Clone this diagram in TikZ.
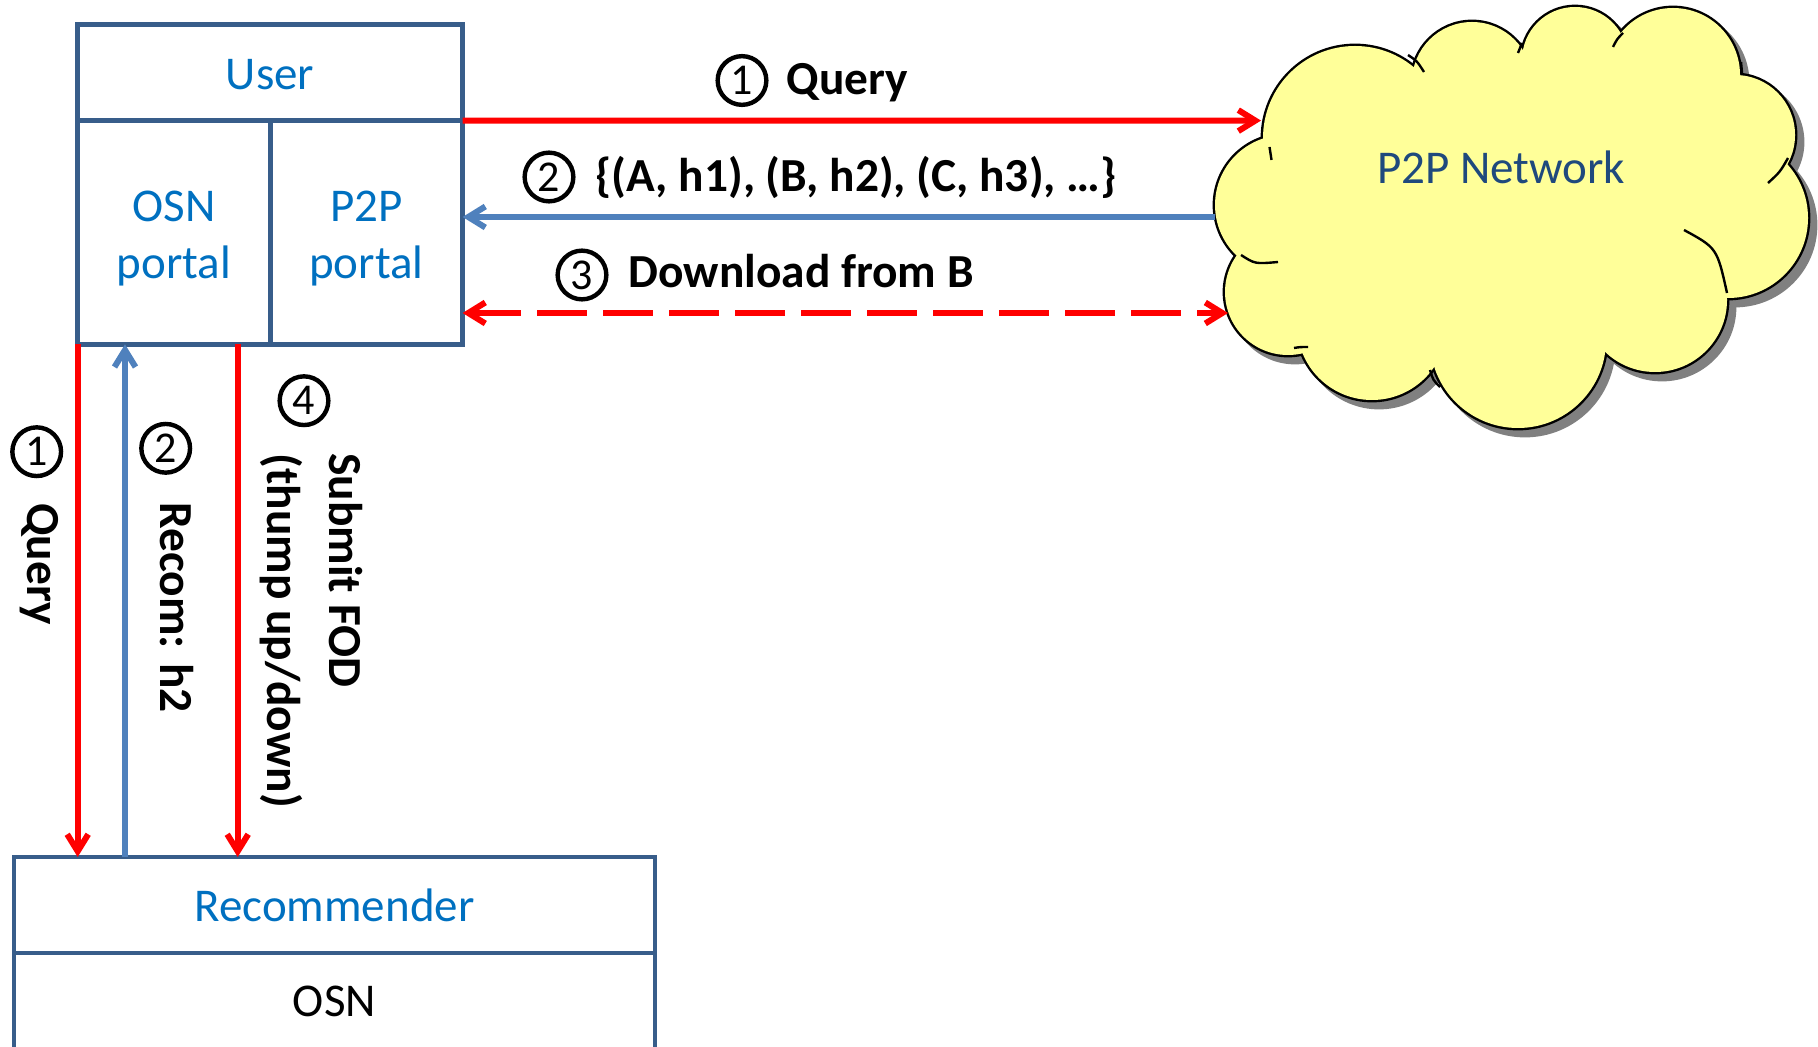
\documentclass[tikz,border=0pt]{standalone}
\usepackage{fontspec}
\setmainfont{Carlito}
\usetikzlibrary{arrows.meta}
\definecolor{boxline}{HTML}{385D8A}
\definecolor{boxtext}{HTML}{0070C0}
\definecolor{cloudtext}{HTML}{1F497D}
\definecolor{arrred}{HTML}{FF0000}
\definecolor{arrblue}{HTML}{4F81BD}
\definecolor{cloudfill}{HTML}{FFFF99}
\definecolor{shadowgray}{HTML}{808080}
\begin{document}
\begin{tikzpicture}[x=0.5pt,y=-0.5pt,
  boxnode/.style={draw=boxline, line width=2.4pt, rectangle, inner sep=0pt, outer sep=0pt},
  boxlabel/.style={text=boxtext, font=\fontsize{23.5}{28.35}\selectfont, inner sep=0pt, align=center},
  steplabel/.style={font=\fontsize{23.7}{31}\selectfont\bfseries, inner sep=0pt},
  numcircle/.style={circle, draw=black, line width=2.2pt, minimum size=24.35pt, inner sep=0pt, font=\fontsize{22}{22}\selectfont},
  redline/.style={draw=arrred, line width=3pt},
  blueline/.style={draw=arrblue, line width=3pt},
  barbend/.style={-{Straight Barb[length=8.5pt,width=10.5pt]}},
  barbboth/.style={{Straight Barb[length=8.5pt,width=10.5pt]}-{Straight Barb[length=8.5pt,width=10.5pt]}},
  longdash/.style={dash pattern=on 25pt off 8pt},
  cloudline/.style={draw=black, line width=1.2pt}
]
\useasboundingbox (0,0) rectangle (1818,1047);

% ---------- cloud ----------
\def\puffs{1355/138/92, 1472/82/60, 1575/60/53, 1673/75/67, 1735/135/60, 1728/218/80, 1655/300/72, 1518/340/88, 1372/325/75, 1288/292/63, 1285/205/70}
\def\fillers{1510/215/150, 1380/230/95, 1650/170/100, 1560/120/70}
\foreach \cx/\cy/\r in \puffs {\fill[shadowgray] (\cx+7,\cy+7) circle[radius=\r+2.4];}
\foreach \cx/\cy/\r in \puffs {\draw[black, line width=2.4pt] (\cx,\cy) circle[radius=\r];}
\foreach \cx/\cy/\r in \puffs {\fill[cloudfill] (\cx,\cy) circle[radius=\r];}
\foreach \cx/\cy/\r in \fillers {\fill[cloudfill] (\cx,\cy) circle[radius=\r];}
\draw[cloudline] (1684,230) .. controls (1717,248) .. (1727,293);
\draw[cloudline] (1241,255) .. controls (1255,264) .. (1278,262);
\draw[cloudline] (1430,370) .. controls (1433,380) .. (1440,387);
\draw[cloudline] (1294,348) .. controls (1300,347) .. (1308,347);
\draw[cloudline] (1768,183) .. controls (1780,172) .. (1788,158);
\draw[cloudline] (1741,62) -- (1742,73);
\draw[cloudline] (1613,47) .. controls (1617,39) .. (1623,33);
\draw[cloudline] (1518,53) -- (1522,43);
\draw[cloudline] (1408,55) .. controls (1417,61) .. (1424,72);
\draw[cloudline] (1269.5,147) -- (1271.5,160);
\node[text=cloudtext, font=\fontsize{23.5}{28}\selectfont, inner sep=0pt, anchor=base] (p2p) at (1501,183.3) {P2P Network};

% ---------- user box ----------
\node[boxnode, minimum width=192.45pt, minimum height=48.15pt] (user) at (270.15,72.45) {};
\node[boxnode, minimum width=96.2pt, minimum height=111.85pt] (osnp) at (173.9,232.45) {};
\node[boxnode, minimum width=96.25pt, minimum height=111.85pt] (p2pp) at (366.35,232.45) {};
\node[boxlabel, anchor=base] (usertxt) at (270.15,89.3) {User};
\node[boxlabel] (osnptxt) at (174,238.4) {OSN\\portal};
\node[boxlabel] (p2pptxt) at (366.35,238.4) {P2P\\portal};

% ---------- recommender box ----------
\node[boxnode, minimum width=320.55pt, minimum height=48pt] (rec) at (334.45,905) {};
\node[boxnode, minimum width=320.55pt, minimum height=51pt] (osn) at (334.45,1004) {};
\node[boxlabel, anchor=base] (rectxt) at (334.45,921) {Recommender};
\node[boxlabel, text=black, anchor=base] (osntxt) at (334.45,1016.7) {OSN};

% ---------- horizontal connectors ----------
\coordinate (qend) at (1261,120.6);
\coordinate (rstart) at (1215,217);
\coordinate (dend) at (1228,313);
\draw[redline, barbend] (user.south east) -- (qend);
\draw[blueline, barbend] (rstart) -- (rstart -| p2pp.east);
\draw[redline, longdash, barbboth] (dend -| p2pp.east) -- (dend);

\node[numcircle] (n1top) at (742,80.5) {1};
\node[steplabel, anchor=base west] (l1top) at (786.5,95) {Query};
\node[numcircle] (n2top) at (549,177) {2};
\node[steplabel, anchor=base west] (l2top) at (595,192) {\{(A, h1), (B, h2), (C, h3), …\}};
\node[numcircle] (n3top) at (582,275) {3};
\node[steplabel, anchor=base west] (l3top) at (628,288) {Download from B};

% ---------- vertical connectors ----------
\coordinate (bx) at (125,344.3);
\coordinate (sx) at (237.7,344.3);
\draw[redline, barbend] (osnp.south west) -- (osnp.south west |- rec.north);
\draw[blueline, barbend] (bx |- rec.north) -- (bx |- osnp.south);
\draw[redline, barbend] (sx |- osnp.south) -- (sx |- rec.north);

\node[numcircle] (n1left) at (36.7,451.7) {1};
\node[steplabel, rotate=-90, anchor=base west] (l1left) at (27,503) {Query};
\node[numcircle] (n2left) at (165.7,448.3) {2};
\node[steplabel, rotate=-90, anchor=base west] (l2left) at (160,502) {Recom: h2};
\node[numcircle] (n4left) at (304,400.7) {4};
\node[steplabel, rotate=-90, anchor=north west, align=left] (l4left) at (363,453) {Submit FOD\\(thump up/down)};
\end{tikzpicture}
\end{document}
